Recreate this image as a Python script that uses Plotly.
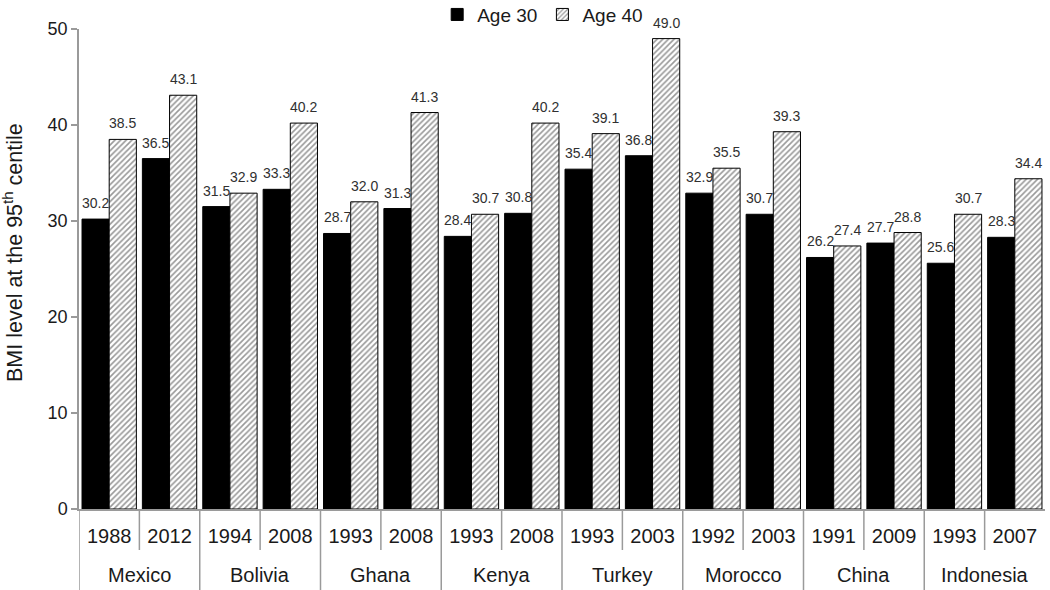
import plotly.graph_objects as go

countries = ["Mexico", "Bolivia", "Ghana", "Kenya", "Turkey", "Morocco", "China", "Indonesia"]
years = ["1988", "2012", "1994", "2008", "1993", "2008", "1993", "2008",
         "1993", "2003", "1992", "2003", "1991", "2009", "1993", "2007"]
age30 = [30.2, 36.5, 31.5, 33.3, 28.7, 31.3, 28.4, 30.8,
         35.4, 36.8, 32.9, 30.7, 26.2, 27.7, 25.6, 28.3]
age40 = [38.5, 43.1, 32.9, 40.2, 32.0, 41.3, 30.7, 40.2,
         39.1, 49.0, 35.5, 39.3, 27.4, 28.8, 30.7, 34.4]

FONT = "Liberation Sans, Arial, sans-serif"
AXIS_GRAY = "#9a9a9a"
BARGAP = 0.1
HALF = (1 - BARGAP) / 4  # offset of each bar centre from group centre

pos = list(range(len(years)))

fig = go.Figure()
fig.add_trace(go.Bar(
    x=pos, y=age30, name="Age 30",
    marker=dict(color="black", line=dict(color="black", width=1)),
))
fig.add_trace(go.Bar(
    x=pos, y=age40, name="Age 40",
    marker=dict(color="white",
                pattern=dict(shape="/", fgcolor="#333333", bgcolor="white",
                             size=4, solidity=0.4),
                line=dict(color="black", width=1)),
))

plot_h = 590 - 29 - 81
shapes = []
for i in range(len(years)):
    b = i - 0.5
    y1 = -81 / plot_h if i % 2 == 0 else -41 / plot_h
    shapes.append(dict(type="line", xref="x", yref="paper", x0=b, x1=b,
                       y0=0, y1=y1, line=dict(color=AXIS_GRAY, width=1.5)))

annotations = []
lab_font = dict(size=14, color="#303030", family=FONT)
for i in pos:
    annotations.append(dict(text=f"{age30[i]:.1f}", xref="x", yref="y", x=i - HALF,
                            y=age30[i], yanchor="bottom", yshift=6, showarrow=False,
                            font=lab_font))
    annotations.append(dict(text=f"{age40[i]:.1f}", xref="x", yref="y", x=i + HALF,
                            y=age40[i], yanchor="bottom", yshift=6, showarrow=False,
                            font=lab_font))
for k, c in enumerate(countries):
    annotations.append(dict(text=c, xref="x", yref="paper", x=2 * k + 0.5, y=0,
                            yshift=-66, yanchor="middle", showarrow=False,
                            font=dict(size=20, color="#1a1a1a", family=FONT)))
annotations.append(dict(text="BMI level at the 95<sup>th</sup> centile",
                        xref="paper", yref="paper", x=0, xshift=-66, y=0.5, yshift=16,
                        textangle=-90, showarrow=False, xanchor="center", yanchor="middle",
                        font=dict(size=21.5, color="#1a1a1a", family=FONT)))

fig.update_layout(
    width=1050, height=590,
    margin=dict(l=79, r=5, t=29, b=81, autoexpand=False),
    paper_bgcolor="white", plot_bgcolor="white",
    barmode="group", bargap=BARGAP, bargroupgap=0,
    font=dict(family=FONT, color="#1a1a1a"),
    showlegend=True,
    legend=dict(orientation="h", x=0.48, xanchor="center", y=1.03, yanchor="middle",
                font=dict(size=19, color="#1a1a1a", family=FONT),
                itemwidth=30, tracegroupgap=0, bgcolor="rgba(0,0,0,0)"),
    shapes=shapes, annotations=annotations,
)
fig.update_xaxes(range=[-0.5, len(years) - 0.5], tickvals=pos, ticktext=years,
                 showline=True, linecolor=AXIS_GRAY, linewidth=1.5, ticks="",
                 showgrid=False, zeroline=False,
                 tickfont=dict(size=20, color="#1a1a1a", family=FONT),
                 ticklabelstandoff=8)
fig.update_yaxes(range=[0, 50], tickvals=[0, 10, 20, 30, 40, 50],
                 showline=True, linecolor=AXIS_GRAY, linewidth=1.5,
                 ticks="outside", ticklen=6, tickcolor=AXIS_GRAY, tickwidth=1.5,
                 showgrid=False, zeroline=False,
                 tickfont=dict(size=18, color="#1a1a1a", family=FONT))

fig.write_html("out.html", config={"displayModeBar": False},
               post_script="document.body.style.margin='0';")
